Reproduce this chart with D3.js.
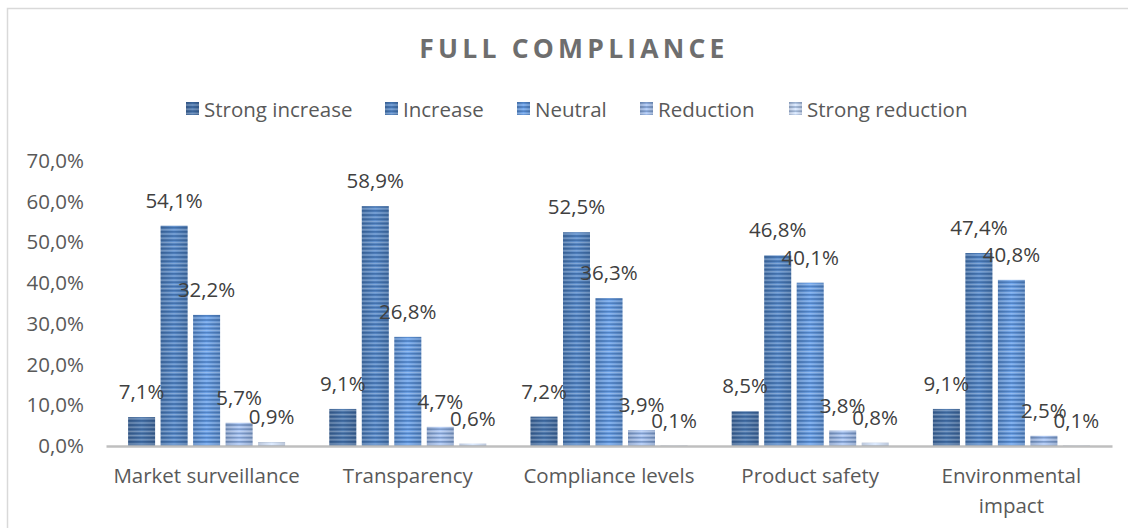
<!DOCTYPE html>
<html>
<head>
<meta charset="utf-8">
<script src="https://cdn.jsdelivr.net/npm/d3@7"></script>
<style>
  html, body { margin: 0; padding: 0; background: #ffffff; }
  svg { display: block; }
  text { font-family: "Open Sans", Lato, sans-serif; }
</style>
</head>
<body>
<svg id="chart" width="1128" height="528"></svg>
<script>
// Survey results: expected effect of full compliance, by area
const categories = ["Market surveillance", "Transparency", "Compliance levels", "Product safety", "Environmental impact"];
const seriesNames = ["Strong increase", "Increase", "Neutral", "Reduction", "Strong reduction"];
const strongIncrease = [7.1, 9.1, 7.2, 8.5, 9.1];
const increase = [54.1, 58.9, 52.5, 46.8, 47.4];
const neutral = [32.2, 26.8, 36.3, 40.1, 40.8];
const reduction = [5.7, 4.7, 3.9, 3.8, 2.5];
const strongReduction = [0.9, 0.6, 0.1, 0.8, 0.1];
const yTicks = [0, 10, 20, 30, 40, 50, 60, 70];
const seriesColors = ["#3e6699", "#4877b2", "#5a8dd0", "#93add8", "#bccbe6"];

const seriesValues = [strongIncrease, increase, neutral, reduction, strongReduction];
const fmt = v => d3.format(".1f")(v).replace(".", ",") + "%";
const FONT = 20.5;

const svg = d3.select("#chart");
const W = 1128, H = 528;
const plot = { left: 106, right: 1112, top: 161, bottom: 446 };

// Chart frame
svg.append("rect").attr("x", 0).attr("y", 0).attr("width", W).attr("height", H).attr("fill", "#ffffff");
svg.append("rect").attr("x", 7.5).attr("y", 8.5).attr("width", 1140).attr("height", 540)
  .attr("fill", "none").attr("stroke", "#d9d9d9").attr("stroke-width", 1.5);

// Fills: horizontal shading per series plus a fine horizontal stripe overlay
const defs = svg.append("defs");
seriesColors.forEach((c, i) => {
  const base = d3.color(c);
  const g = defs.append("linearGradient").attr("id", "grad" + i)
    .attr("x1", "0%").attr("x2", "100%").attr("y1", "0%").attr("y2", "0%");
  g.append("stop").attr("offset", "0%").attr("stop-color", base.darker(0.25));
  g.append("stop").attr("offset", "50%").attr("stop-color", base.brighter(0.35));
  g.append("stop").attr("offset", "100%").attr("stop-color", base.darker(0.25));
});
const stripes = defs.append("pattern").attr("id", "stripes")
  .attr("patternUnits", "userSpaceOnUse").attr("width", 8).attr("height", 4.2);
stripes.append("rect").attr("x", 0).attr("y", 0).attr("width", 8).attr("height", 1.6)
  .attr("fill", "#1f3f6e").attr("opacity", 0.3);
stripes.append("rect").attr("x", 0).attr("y", 2.3).attr("width", 8).attr("height", 1.4)
  .attr("fill", "#ffffff").attr("opacity", 0.3);

// Scales
const x0 = d3.scaleBand().domain(categories).range([plot.left, plot.right]).padding(0);
const groupWidth = 162.5;
const x1 = d3.scaleBand().domain(seriesNames)
  .range([(x0.bandwidth() - groupWidth) / 2, (x0.bandwidth() + groupWidth) / 2])
  .paddingInner(0.17).paddingOuter(0.085);
const y = d3.scaleLinear().domain([0, 70]).range([plot.bottom, plot.top]);

// Title
svg.append("text").attr("x", 574).attr("y", 58).attr("text-anchor", "middle")
  .attr("font-size", 26.5).attr("font-weight", "bold").attr("letter-spacing", 4.2)
  .attr("fill", "#6e6e6e").text("FULL COMPLIANCE");

// Legend
const legendX = [186, 385, 517, 640, 789];
const legend = svg.append("g");
seriesNames.forEach((s, i) => {
  const gi = legend.append("g").attr("transform", `translate(${legendX[i]},102)`);
  gi.append("rect").attr("width", 13).attr("height", 13).attr("fill", `url(#grad${i})`);
  gi.append("rect").attr("width", 13).attr("height", 13).attr("fill", "url(#stripes)");
  gi.append("text").attr("x", 18).attr("y", 15).attr("font-size", FONT)
    .attr("fill", "#595959").text(s);
});

// Y axis labels (no line, no gridlines)
const yAxis = d3.axisLeft(y).tickValues(yTicks).tickSize(0).tickPadding(0)
  .tickFormat(d => d3.format(".1f")(d).replace(".", ",") + "%");
const yg = svg.append("g").attr("transform", "translate(84,0)").call(yAxis);
yg.select(".domain").remove();
yg.selectAll("text").attr("font-size", FONT).attr("fill", "#595959")
  .attr("font-family", "'Open Sans', Lato, sans-serif");

// Bars
const groups = svg.append("g").selectAll("g").data(categories).join("g")
  .attr("transform", d => `translate(${x0(d)},0)`);
seriesNames.forEach((s, si) => {
  const vals = seriesValues[si];
  groups.append("rect")
    .attr("x", x1(s)).attr("width", x1.bandwidth())
    .attr("y", (d, ci) => y(vals[ci])).attr("height", (d, ci) => y(0) - y(vals[ci]))
    .attr("fill", `url(#grad${si})`);
  groups.append("rect")
    .attr("x", x1(s)).attr("width", x1.bandwidth())
    .attr("y", (d, ci) => y(vals[ci])).attr("height", (d, ci) => y(0) - y(vals[ci]))
    .attr("fill", "url(#stripes)");
});

// X axis line
const xAxis = d3.axisBottom(x0).tickSize(0).tickPadding(0).tickFormat("");
const xg = svg.append("g").attr("transform", `translate(0,${plot.bottom})`).call(xAxis);
xg.select(".domain").attr("stroke", "#bfbfbf").attr("stroke-width", 2.5);

// Category labels, wrapped when wider than a band
categories.forEach(c => {
  const cx = x0(c) + x0.bandwidth() / 2;
  const lines = c === "Environmental impact" ? ["Environmental", "impact"] : [c];
  lines.forEach((ln, li) => {
    svg.append("text").attr("x", cx).attr("y", 483 + li * 30).attr("text-anchor", "middle")
      .attr("font-size", FONT).attr("fill", "#595959").text(ln);
  });
});

// Data labels
seriesNames.forEach((s, si) => {
  const vals = seriesValues[si];
  groups.append("text")
    .attr("x", x1(s) + x1.bandwidth() / 2)
    .attr("y", (d, ci) => y(vals[ci]) - 18)
    .attr("text-anchor", "middle").attr("font-size", FONT).attr("fill", "#404040")
    .text((d, ci) => fmt(vals[ci]));
});
</script>
</body>
</html>
